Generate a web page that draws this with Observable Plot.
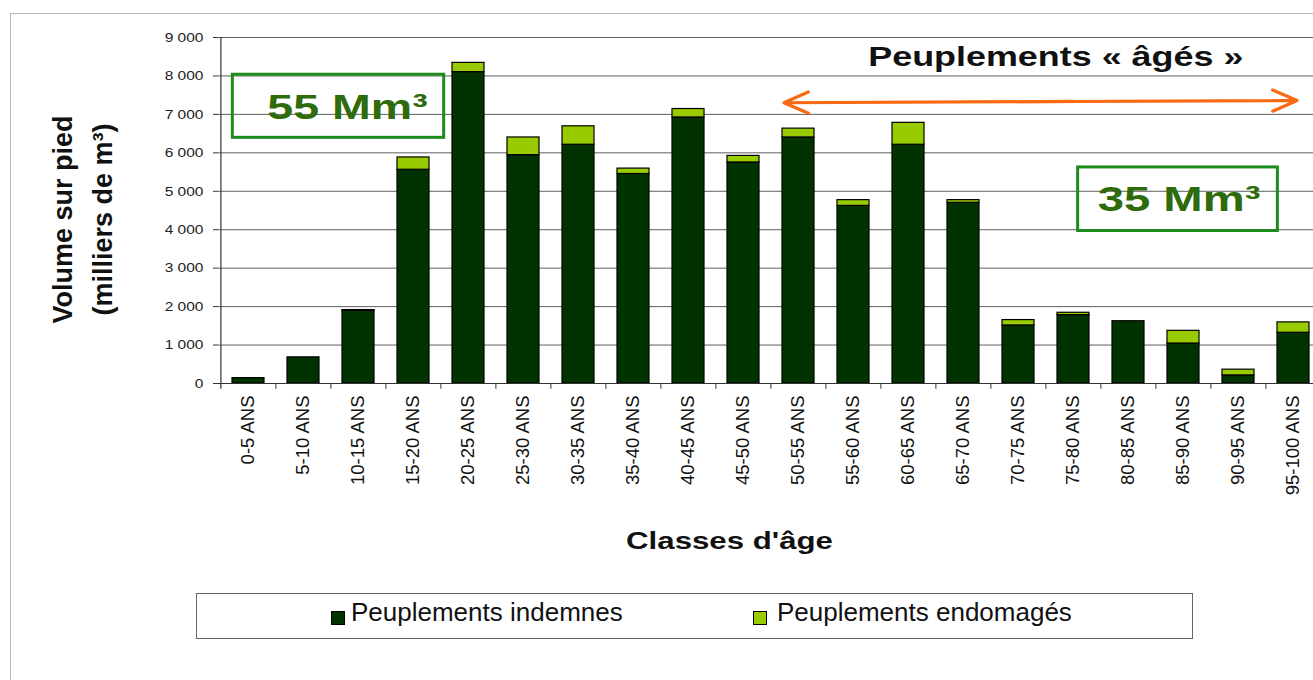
<!DOCTYPE html>
<html>
<head>
<meta charset="utf-8">
<script src="https://cdn.jsdelivr.net/npm/d3@7"></script>
<script src="https://cdn.jsdelivr.net/npm/@observablehq/plot@0.6"></script>
<style>
  body { margin: 0; background: #ffffff; font-family: "Liberation Sans", Arial, sans-serif; }
  #wrap { position: relative; width: 1313px; height: 680px; overflow: hidden; background: #fff; }
  #frame { position: absolute; left: 10px; top: 13px; right: -5px; bottom: -5px;
           border-top: 1px solid #b8b8b8; border-left: 1px solid #b8b8b8; }
  #chart { position: absolute; left: 0; top: 0; width: 1330px; height: 590px; }
  #chart svg { max-width: none !important; }
  #legend { position: absolute; left: 196px; top: 593px; width: 995px; height: 44px;
            border: 1px solid #666; background: #fff; }
  .sw { position: absolute; top: 17px; width: 12px; height: 12px; border: 1px solid #000; }
  .lt { position: absolute; top: 5px; font-size: 26px; line-height: 26px; color: #111; white-space: nowrap; }
</style>
</head>
<body>
<div id="wrap">
  <div id="frame"></div>
  <div id="chart"></div>
  <div id="legend"></div>
</div>
<script>
// ---- data ----
const classes = ["0-5 ANS", "5-10 ANS", "10-15 ANS", "15-20 ANS", "20-25 ANS", "25-30 ANS",
  "30-35 ANS", "35-40 ANS", "40-45 ANS", "45-50 ANS", "50-55 ANS", "55-60 ANS", "60-65 ANS",
  "65-70 ANS", "70-75 ANS", "75-80 ANS", "80-85 ANS", "85-90 ANS", "90-95 ANS", "95-100 ANS"];
const indemnes   = [140, 680, 1890, 5560, 8100, 5940, 6210, 5450, 6920, 5750, 6400, 4620, 6210, 4700, 1510, 1780, 1620, 1040, 210, 1320];
const endommages = [0,   0,   20,   320,  240,  460,  480,  140,  220,  170,  230,  150,  570,  70,   140,  60,   0,    330,  150, 270];
const seriesNames  = ["Peuplements indemnes", "Peuplements endomagés"];
const seriesColors = ["#003300", "#99cc00"];
const yTicks = [0, 1000, 2000, 3000, 4000, 5000, 6000, 7000, 8000, 9000];
const yTitle = "Volume sur pied\n(milliers de m³)";
const xTitle = "Classes d'âge";
const agedTitle = "Peuplements « âgés »";
const agedSpan = ["50-55 ANS", "95-100 ANS"];
const agedArrowY = [7304, 7362];
const volumeLabels = ["55 Mm³", "35 Mm³"];
const volumeAt = ["10-15 ANS", "85-90 ANS"];
const volumeY = [7180, 4780];

// ---- table for the library ----
const rows = classes.flatMap((c, i) => [
  {classe: c, serie: seriesNames[0], v: indemnes[i]},
  {classe: c, serie: seriesNames[1], v: endommages[i]}
]);

const W = 1330, H = 590, ML = 218, MR = 8;
const step = (W - ML - MR) / classes.length;
const font = "'Liberation Sans', Arial, sans-serif";
const fmt = d => d3.format(",")(d).replace(/,/g, " ");

const chart = Plot.plot({
  width: W, height: H,
  marginLeft: ML, marginRight: MR, marginTop: 37, marginBottom: 207,
  style: {fontFamily: font, background: "transparent", overflow: "visible", color: "#222", maxWidth: "none"},
  x: {domain: classes, paddingInner: 0.42, paddingOuter: 0.21, axis: null},
  y: {domain: [0, 9000], axis: null},
  color: {domain: seriesNames, range: seriesColors},
  marks: [
    Plot.ruleY(yTicks.filter(t => t > 0), {stroke: "#5e5e5e", strokeWidth: 1}),
    Plot.barY(rows, Plot.stackY({x: "classe", y: "v", fill: "serie", filter: d => d.v > 0,
      stroke: "#000", strokeWidth: 1.2})),
    Plot.ruleY([0], {stroke: "#333", strokeWidth: 1.2}),
    Plot.ruleX([classes[0]], {dx: -step / 2, y1: -150, y2: 9000, stroke: "#333", strokeWidth: 1.2}),
    Plot.ruleX(classes.slice(1), {dx: -step / 2, y1: -150, y2: 0, stroke: "#333"}),
    Plot.axisY({ticks: yTicks, tickFormat: fmt, tickSize: 5, tickPadding: 10, fontSize: 13.5,
      stroke: "#333", fill: "#222", label: null}),
    Plot.axisX({tickRotate: -90, tickSize: 0, tickPadding: 12, fontSize: 18.5, fill: "#111", label: null}),
    Plot.text([yTitle], {frameAnchor: "left", textAnchor: "middle", lineAnchor: "middle", rotate: -90,
      dx: 79 - ML, dy: 9, fontSize: 27, fontWeight: "bold", lineHeight: 1.48, fill: "#111"}),
    Plot.text([xTitle], {frameAnchor: "bottom", textAnchor: "middle", lineAnchor: "middle",
      dx: -41, dy: 158, fontSize: 24, fontWeight: "bold", fill: "#111"}),
    Plot.text([{c: "75-80 ANS", y: 8500, t: agedTitle}], {x: "c", y: "y", text: "t", dx: -17.7,
      fontSize: 28.5, fontWeight: "bold", fill: "#111"}),
    Plot.arrow([{a: "75-80 ANS", b: agedSpan[0], ya: 7336, yb: agedArrowY[0]}], {x1: "a", x2: "b", y1: "ya", y2: "yb",
      stroke: "#fa6a12", strokeWidth: 3.2, headLength: 12.5, headAngle: 47, insetEnd: -14.6}),
    Plot.arrow([{a: "70-75 ANS", b: agedSpan[1], ya: 7329, yb: agedArrowY[1]}], {x1: "a", x2: "b", y1: "ya", y2: "yb",
      stroke: "#fa6a12", strokeWidth: 3.2, headLength: 12.5, headAngle: 47, insetEnd: -3.6}),
    Plot.text([{c: volumeAt[0], y: volumeY[0], t: volumeLabels[0]}], {x: "c", y: "y", text: "t", dx: -11,
      fontSize: 35, fontWeight: "bold", fill: "#2e6b0a"}),
    Plot.text([{c: volumeAt[1], y: volumeY[1], t: volumeLabels[1]}], {x: "c", y: "y", text: "t", dx: -4.5,
      fontSize: 35, fontWeight: "bold", fill: "#2e6b0a"})
  ]
});
chart.style.maxWidth = "none";
document.getElementById("chart").appendChild(chart);

// horizontal stretch of some texts (the reference is stretched horizontally)
function stretch(el, s) {
  const svgR = chart.getBoundingClientRect();
  const r = el.getBoundingClientRect();
  const anchor = getComputedStyle(el).textAnchor || "middle";
  const pxSvg = (anchor === "end" ? r.right : anchor === "start" ? r.left : (r.left + r.right) / 2) - svgR.left;
  const m = el.parentNode.getCTM();
  const p = (pxSvg - m.e) / m.a;
  el.setAttribute("transform", `translate(${p},0) scale(${s},1) translate(${-p},0) ` + (el.getAttribute("transform") || ""));
}
const stretchMap = new Map([[agedTitle, 1.26], [volumeLabels[0], 1.33], [volumeLabels[1], 1.35], [xTitle, 1.3]]);
const tickLabels = new Set(yTicks.map(fmt));
const textEls = Array.from(chart.querySelectorAll("text"));
for (const el of textEls) {
  const t = el.textContent;
  if (stretchMap.has(t)) stretch(el, stretchMap.get(t));
  else if (tickLabels.has(t) && getComputedStyle(el).textAnchor === "end") stretch(el, 1.15);
}

// boxes around the volume annotations
const pads = [{l: 35, r: 16, t: 13, b: 11}, {l: 20, r: 17, t: 12, b: 12}];
const svgR = chart.getBoundingClientRect();
volumeLabels.forEach((lab, i) => {
  const el = textEls.find(e => e.textContent === lab);
  if (!el) return;
  const r = el.getBoundingClientRect();
  const p = pads[i];
  d3.select(chart).append("rect")
    .attr("x", r.left - svgR.left - p.l).attr("y", r.top - svgR.top - p.t)
    .attr("width", r.width + p.l + p.r).attr("height", r.height + p.t + p.b)
    .attr("fill", "none").attr("stroke", "#1c8c1c").attr("stroke-width", 3);
});

// legend
const legend = document.getElementById("legend");
const legendX = [[134, 154], [556, 580]];
seriesNames.forEach((name, i) => {
  const sw = document.createElement("div");
  sw.className = "sw"; sw.style.left = legendX[i][0] + "px"; sw.style.background = seriesColors[i];
  const tx = document.createElement("div");
  tx.className = "lt"; tx.style.left = legendX[i][1] + "px"; tx.textContent = name;
  legend.appendChild(sw); legend.appendChild(tx);
});
</script>
</body>
</html>
